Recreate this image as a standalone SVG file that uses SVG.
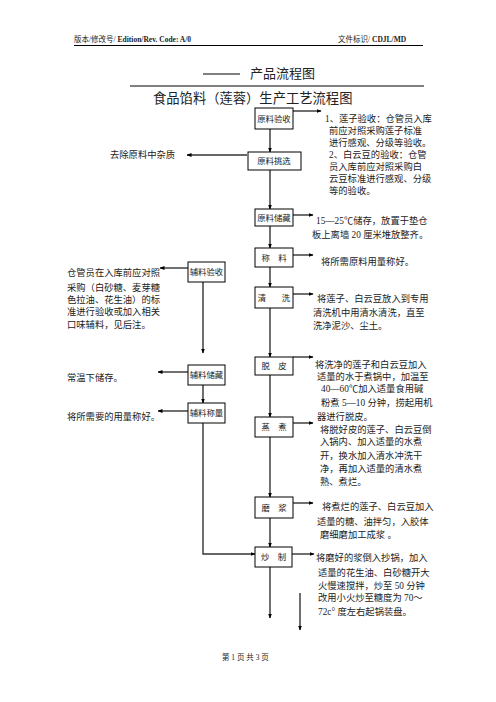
<svg xmlns="http://www.w3.org/2000/svg" width="496" height="702" viewBox="0 0 496 702">
<defs>
<marker id="ah" viewBox="0 0 10 10" refX="9" refY="5" markerWidth="5" markerHeight="5" orient="auto" markerUnits="userSpaceOnUse">
<path d="M0,1 L10,5 L0,9 z" fill="#000"/>
</marker>
<style>
text{font-family:"Liberation Serif","Noto Sans CJK SC",serif;fill:#222;}
.t{font-size:9.3px;}
.hd{font-size:7.5px;}
.bx{fill:#fff;stroke:#000;stroke-width:1;}
.bt{font-size:8.4px;text-anchor:middle;}
.ln{stroke:#333;stroke-width:1.4;fill:none;}
.ar{stroke:#333;stroke-width:1.4;fill:none;marker-end:url(#ah);}
</style>
</defs>
<rect width="496" height="702" fill="#fff"/>
<!-- header -->
<text class="hd" x="74" y="42">版本/修改号/ <tspan font-weight="bold">Edition/Rev. Code: A/0</tspan></text>
<text class="hd" x="338" y="42">文件标识/ <tspan font-weight="bold">CDJL/MD</tspan></text>
<line x1="74" y1="45.5" x2="423" y2="45.5" stroke="#000" stroke-width="1"/>
<line x1="203" y1="74" x2="240" y2="74" stroke="#000" stroke-width="1"/>
<text x="250" y="78" font-size="13">产品流程图</text>
<line x1="130" y1="86" x2="424" y2="86" stroke="#000" stroke-width="1"/>
<text x="153" y="103" font-size="13.3">食品馅料（莲蓉）生产工艺流程图</text>

<g id="connectors">
<line class="ar" x1="293" y1="111" x2="321" y2="111"/>
<line class="ar" x1="270" y1="129" x2="270" y2="152"/>
<line class="ar" x1="247" y1="155" x2="187" y2="155"/>
<line class="ar" x1="270" y1="170" x2="270" y2="209"/>
<line class="ar" x1="293" y1="215" x2="313" y2="215"/>
<line class="ar" x1="270" y1="226" x2="270" y2="248"/>
<line class="ar" x1="293" y1="255" x2="313" y2="255"/>
<line class="ar" x1="270" y1="267" x2="270" y2="287"/>
<line class="ar" x1="293" y1="294" x2="313" y2="294"/>
<line class="ar" x1="270" y1="308" x2="270" y2="357"/>
<line class="ar" x1="293" y1="357" x2="313" y2="357"/>
<line class="ar" x1="270" y1="375" x2="270" y2="417"/>
<line class="ar" x1="293" y1="423" x2="313" y2="423"/>
<line class="ar" x1="270" y1="437" x2="270" y2="497"/>
<line class="ar" x1="293" y1="503" x2="313" y2="503"/>
<line class="ar" x1="270" y1="518" x2="270" y2="547"/>
<line class="ar" x1="292" y1="554" x2="314" y2="554"/>
<line class="ar" x1="270" y1="567" x2="270" y2="618"/>
<line class="ar" x1="300" y1="593" x2="300" y2="630"/>
<line class="ar" x1="188" y1="268" x2="160" y2="268"/>
<line class="ar" x1="203" y1="282" x2="203" y2="353"/>
<line class="ar" x1="188" y1="372" x2="158" y2="372"/>
<line class="ar" x1="203" y1="385" x2="203" y2="403"/>
<line class="ar" x1="188" y1="411" x2="158" y2="411"/>
<polyline class="ar" points="203,423 203,554 255,554"/>
</g>

<g id="n1"><rect class="bx" x="255" y="108" width="38" height="21"/><text class="bt" x="274" y="122">原料验收</text></g>
<g id="n2"><rect class="bx" x="248" y="152" width="53" height="18"/><text class="bt" x="274" y="164">原料挑选</text></g>
<g id="n3"><rect class="bx" x="255" y="209" width="38" height="17"/><text class="bt" x="274" y="221">原料储藏</text></g>
<g id="n4"><rect class="bx" x="255" y="248" width="38" height="19"/><text class="bt" x="274" y="261" xml:space="preserve">称    料</text></g>
<g id="n5"><rect class="bx" x="255" y="287" width="38" height="21"/><text class="bt" x="262" y="301">清</text><text class="bt" x="286" y="301">洗</text></g>
<g id="n6"><rect class="bx" x="255" y="357" width="38" height="18"/><text class="bt" x="274" y="369" xml:space="preserve">脱    皮</text></g>
<g id="n7"><rect class="bx" x="255" y="417" width="38" height="20"/><text class="bt" x="274" y="430" xml:space="preserve">蒸    煮</text></g>
<g id="n8"><rect class="bx" x="255" y="497" width="38" height="21"/><text class="bt" x="274" y="511" xml:space="preserve">磨    浆</text></g>
<g id="n9"><rect class="bx" x="255" y="547" width="37" height="20"/><text class="bt" x="273.5" y="560" xml:space="preserve">炒    制</text></g>
<g id="a1"><rect class="bx" x="188" y="262" width="37" height="20"/><text class="bt" x="206.5" y="275">辅料验收</text></g>
<g id="a2"><rect class="bx" x="188" y="365" width="37" height="20"/><text class="bt" x="206.5" y="378">辅料储藏</text></g>
<g id="a3"><rect class="bx" x="188" y="403" width="37" height="20"/><text class="bt" x="206.5" y="416">辅料称量</text></g>

<g id="notes">
<text class="t" x="110" y="158">去除原料中杂质</text>
<text class="t" x="325" y="122">1、莲子验收：仓管员入库</text>
<text class="t" x="329" y="134">前应对照采购莲子标准</text>
<text class="t" x="329" y="146">进行感观、分级等验收。</text>
<text class="t" x="329" y="158">2、白云豆的验收：仓管</text>
<text class="t" x="329" y="170">员入库前应对照采购白</text>
<text class="t" x="329" y="182">云豆标准进行感观、分级</text>
<text class="t" x="329" y="194">等的验收。</text>
<text class="t" x="316" y="224">15—25℃储存，放置于垫仓</text>
<text class="t" x="312" y="238">板上离墙 20 厘米堆放整齐。</text>
<text class="t" x="321" y="265">将所需原料用量称好。</text>
<text class="t" x="317" y="302">将莲子、白云豆放入到专用</text>
<text class="t" x="313" y="316">清洗机中用清水清洗，直至</text>
<text class="t" x="313" y="329">洗净泥沙、尘土。</text>
<text class="t" x="315" y="368">将洗净的莲子和白云豆加入</text>
<text class="t" x="317" y="380">适量的水于煮锅中，加温至</text>
<text class="t" x="321" y="392">40—60℃加入适量食用碱</text>
<text class="t" x="321" y="406">粉煮 5—10 分钟，捞起用机</text>
<text class="t" x="317" y="420">器进行脱皮。</text>
<text class="t" x="320" y="433">将脱好皮的莲子、白云豆倒</text>
<text class="t" x="320" y="445">入锅内、加入适量的水煮</text>
<text class="t" x="320" y="459">开，换水加入清水冲洗干</text>
<text class="t" x="320" y="472">净，再加入适量的清水煮</text>
<text class="t" x="320" y="485">熟、煮烂。</text>
<text class="t" x="322" y="510">将煮烂的莲子、白云豆加入</text>
<text class="t" x="317" y="525">适量的糖、油拌匀，入胶体</text>
<text class="t" x="320" y="538">磨细磨加工成浆 。</text>
<text class="t" x="316" y="561">将磨好的浆倒入抄锅，加入</text>
<text class="t" x="318" y="576">适量的花生油、白砂糖开大</text>
<text class="t" x="318" y="589">火慢速搅拌，炒至 50 分钟</text>
<text class="t" x="318" y="601">改用小火炒至糖度为 70～</text>
<text class="t" x="318" y="615">72c° 度左右起锅装盘。</text>
<text class="t" x="67" y="276">仓管员在入库前应对照</text>
<text class="t" x="67" y="291">采购（白砂糖、麦芽糖</text>
<text class="t" x="67" y="303">色拉油、花生油）的标</text>
<text class="t" x="67" y="315">准进行验收或加入相关</text>
<text class="t" x="67" y="328">口味辅料，见后注。</text>
<text class="t" x="67" y="381">常温下储存。</text>
<text class="t" x="67" y="420">将所需要的用量称好。</text>
</g>
<text x="222" y="660" font-size="7.5">第 1 页 共 3 页</text>
</svg>
